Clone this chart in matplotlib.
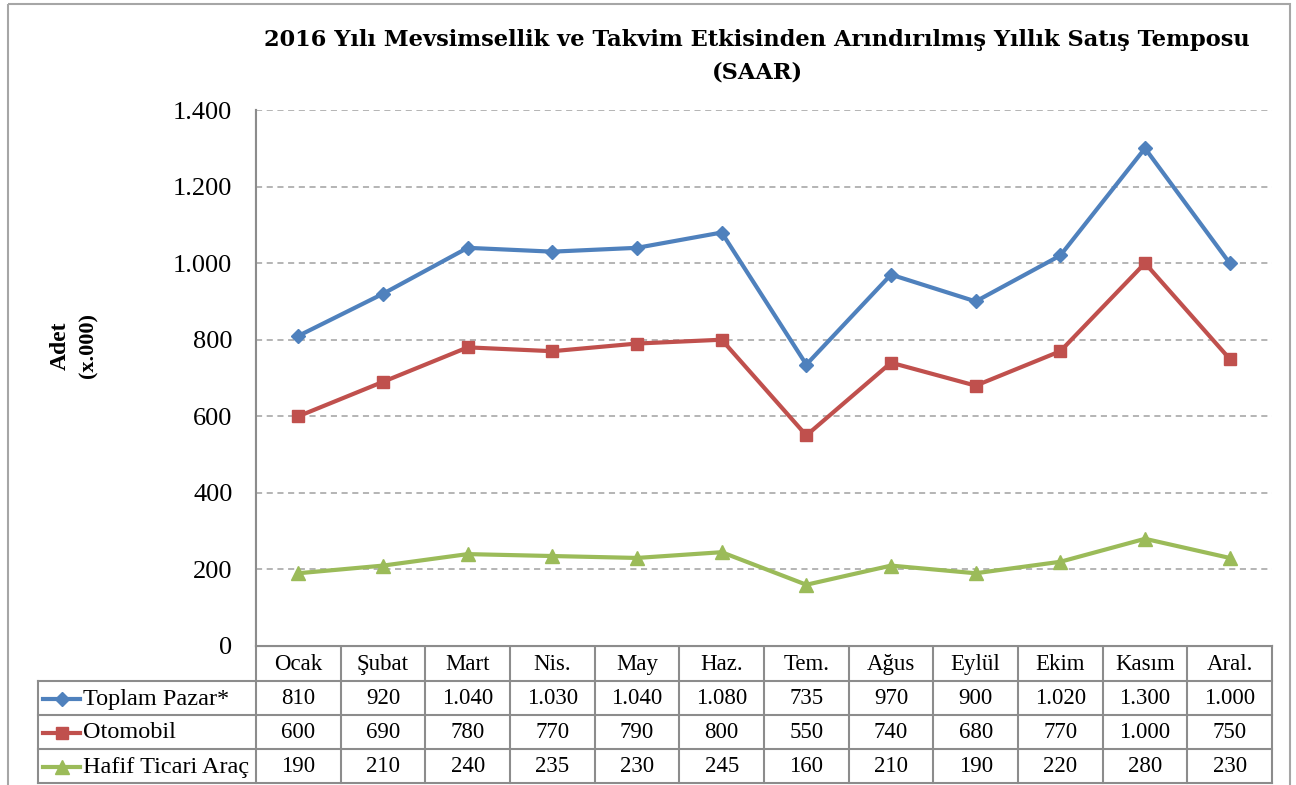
import matplotlib
matplotlib.use("Agg")
import matplotlib.pyplot as plt
from matplotlib.lines import Line2D
from matplotlib.patches import Rectangle

months = ["Ocak", "Şubat", "Mart", "Nis.", "May", "Haz.", "Tem.", "Ağus", "Eylül", "Ekim", "Kasım", "Aral."]
toplam = [810, 920, 1040, 1030, 1040, 1080, 735, 970, 900, 1020, 1300, 1000]
otomobil = [600, 690, 780, 770, 790, 800, 550, 740, 680, 770, 1000, 750]
hafif = [190, 210, 240, 235, 230, 245, 160, 210, 190, 220, 280, 230]
series_names = ["Toplam Pazar*", "Otomobil", "Hafif Ticari Araç"]
yticks = [0, 200, 400, 600, 800, 1000, 1200, 1400]
title_lines = ["2016 Yılı Mevsimsellik ve Takvim Etkisinden Arındırılmış Yıllık Satış Temposu", "(SAAR)"]

colors = ["#4F81BD", "#C0504D", "#9BBB59"]
markers = ["D", "s", "^"]
msizes = [7.5, 9, 10]
series = [toplam, otomobil, hafif]

FONT = "Liberation Serif"
plt.rcParams["font.family"] = [FONT, "DejaVu Serif"]

W, H = 1296, 785
fig = plt.figure(figsize=(W / 100, H / 100), dpi=100)

# layout in pixels
L, R, T, B = 256, 1272, 110, 646
ax = fig.add_axes([L / W, 1 - B / H, (R - L) / W, (B - T) / H])
ax.set_xlim(-0.5, len(months) - 0.5)
ax.set_ylim(0, 1400)
ax.set_yticks(yticks)
ax.set_yticklabels([f"{v:,}".replace(",", ".") for v in yticks], fontsize=19)
ax.tick_params(axis="y", length=0, pad=17)
ax.set_xticks([])
for s in ["top", "right"]:
    ax.spines[s].set_visible(False)
ax.spines["left"].set_color("#8C8C8C")
ax.spines["left"].set_linewidth(1.5)
ax.spines["bottom"].set_color("#8C8C8C")
ax.spines["bottom"].set_linewidth(1.5)
ax.yaxis.grid(True, color="#A0A0A0", linestyle=(0, (4, 3)), linewidth=1.1)
ax.set_axisbelow(True)

x = list(range(len(months)))
for vals, c, m, ms in zip(series, colors, markers, msizes):
    ax.plot(x, vals, color=c, linewidth=3, marker=m, markersize=ms,
            markeredgecolor=c, zorder=3, clip_on=False)

# overlay in pixel coordinates for table, title, border
ov = fig.add_axes([0, 0, 1, 1], zorder=-1)
ov.set_xlim(0, W)
ov.set_ylim(H, 0)
ov.axis("off")

ov.add_patch(Rectangle((8, 4), 1282, 800, fill=False, edgecolor="#A6A6A6", linewidth=1.5))

ov.text(757, 40, title_lines[0], ha="center", va="center", fontsize=16.2, fontweight="bold",
        family=["DejaVu Serif"])
ov.text(757, 72, title_lines[1], ha="center", va="center", fontsize=16.2, fontweight="bold",
        family=["DejaVu Serif"])

ov.text(60, 346, "Adet", rotation=90, ha="center", va="center",
        fontsize=17, fontweight="bold")
ov.text(88, 346, "(x.000)", rotation=90, ha="center", va="center",
        fontsize=16, fontweight="bold")

gc = "#8C8C8C"
lw = 1.5
col_w = (R - L) / len(months)
rows_y = [646, 681, 715, 749, 783]
TL = 38
# vertical lines
ov.plot([L, L], [T, rows_y[-1]], color=gc, lw=lw)
for k in range(1, len(months) + 1):
    xx = L + k * col_w
    ov.plot([xx, xx], [rows_y[0], rows_y[-1]], color=gc, lw=lw)
ov.plot([TL, TL], [rows_y[1], rows_y[-1]], color=gc, lw=lw)
# horizontal lines
for i, yy in enumerate(rows_y):
    x0 = L if i == 0 else TL
    ov.plot([x0, R], [yy, yy], color=gc, lw=lw)

# header
for k, mname in enumerate(months):
    ov.text(L + (k + 0.5) * col_w, (rows_y[0] + rows_y[1]) / 2 + 1, mname,
            ha="center", va="center", fontsize=16.5)

for i, (name, vals, c, m, ms) in enumerate(zip(series_names, series, colors, markers, msizes)):
    yc = (rows_y[i + 1] + rows_y[i + 2]) / 2 + 1
    ov.add_line(Line2D([43, 80], [yc, yc], color=c, lw=3))
    ov.add_line(Line2D([61.5], [yc], color=c, marker=m, markersize=ms, markeredgecolor=c))
    ov.text(83, yc, name, ha="left", va="center", fontsize=17.5)
    for k, v in enumerate(vals):
        ov.text(L + (k + 0.5) * col_w, yc, f"{v:,}".replace(",", "."),
                ha="center", va="center", fontsize=16.5)

fig.savefig("out.png", dpi=100)
